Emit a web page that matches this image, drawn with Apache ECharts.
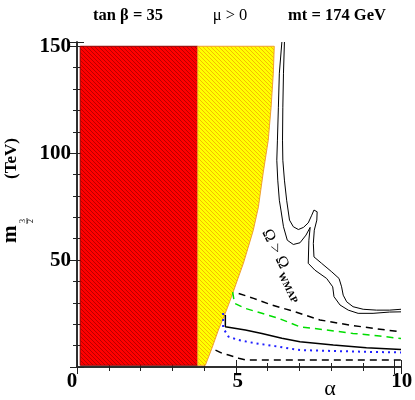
<!DOCTYPE html>
<html>
<head>
<meta charset="utf-8">
<title>m3/2 vs alpha</title>
<script src="https://cdn.jsdelivr.net/npm/echarts@6/dist/echarts.min.js"></script>
<style>
html, body { margin: 0; padding: 0; background: #fff; }
#main { width: 415px; height: 400px; }
</style>
</head>
<body>
<div id="main"></div>
<script>
// values: x = alpha, y = m3/2 (TeV)
var xLabels = [0, 5, 10];
var yLabels = [50, 100, 150];

// excluded regions
var tachyon = [[0.1, 0.8], [3.8, 0.8], [3.8, 150], [0.1, 150]];
var noEwsb = [[3.8, 150], [6.21, 150], [6.18, 137.4], [6.11, 121.5], [6.02, 106], [5.86, 90.7],
    [5.71, 74.8], [5.55, 64], [5.39, 56], [5.24, 48.6], [5.05, 40.7], [4.86, 32.7], [4.67, 25.2],
    [4.45, 17.3], [4.26, 9.3], [4.04, 0.8], [3.8, 0.8]];

// Omega = Omega_WMAP contours
var wmapInner = [[6.53, 152], [6.50, 137.4], [6.48, 121.5], [6.47, 106.1], [6.48, 96.7], [6.53, 87.4],
    [6.60, 78.0], [6.69, 68.7], [6.81, 65.6], [6.97, 64.3], [7.13, 65.3], [7.28, 67.4], [7.39, 71.0],
    [7.46, 73.4], [7.52, 73.8], [7.56, 72.6], [7.55, 68.7], [7.47, 64.0], [7.44, 57.8], [7.46, 51.5],
    [7.70, 48.5], [8.02, 44.5], [8.25, 41.4], [8.33, 37.5], [8.38, 33.6], [8.49, 30.5], [8.69, 28.2],
    [9.01, 27.0], [9.43, 26.6], [9.84, 26.6], [10.2, 27.0]];
var wmapOuter = [[6.45, 152], [6.37, 137.4], [6.34, 121.5], [6.31, 106.1], [6.29, 96.7], [6.32, 87.4],
    [6.37, 78.0], [6.42, 73.4], [6.50, 65.6], [6.62, 59.3], [6.81, 57.3], [7.02, 58.1], [7.21, 61.7],
    [7.34, 65.3], [7.36, 65.6], [7.30, 59.3], [7.28, 48.5], [7.49, 45.3], [7.86, 41.4], [8.05, 37.5],
    [8.09, 32.9], [8.28, 29.0], [8.54, 26.6], [8.85, 25.1], [9.32, 25.1], [9.84, 25.7], [10.2, 25.8]];

// lower curves
var dashUpper = [[5.09, 34.4], [5.56, 32.1], [6.13, 29.0], [6.87, 25.8], [7.65, 22.0], [8.59, 19.6],
    [9.32, 18.1], [10.2, 16.4]];
var greenDash = [[4.90, 35.0], [4.96, 29.8], [5.30, 27.4], [5.82, 25.1], [6.34, 22.8], [7.02, 18.8],
    [7.86, 17.3], [8.69, 15.7], [9.53, 14.5], [10.2, 13.3]];
var solidLine = [[4.67, 24.3], [4.67, 18.8], [4.72, 18.6], [5.30, 17.3], [5.82, 15.7], [6.45, 13.4],
    [7.02, 11.8], [8.07, 10.3], [9.11, 9.0], [10.2, 8.2]];
var blueDots = [[4.6, 25.2], [4.6, 18.2], [4.77, 14.2], [5.09, 12.6], [5.61, 11.1], [6.34, 9.5],
    [7.02, 7.9], [8.07, 7.5], [9.11, 7.1], [10.2, 6.8]];
var dashLower = [[4.36, 7.9], [4.57, 6.4], [4.77, 5.6], [5.09, 4.1], [5.30, 3.3], [7.02, 3.3], [10.2, 3.3]];

var serif = '"Liberation Serif", "DejaVu Serif", serif';

function hatch(bg, fg, w) {
    var c = document.createElement('canvas');
    c.width = 4; c.height = 4;
    var g = c.getContext('2d');
    g.fillStyle = bg;
    g.fillRect(0, 0, 4, 4);
    g.strokeStyle = fg;
    g.lineWidth = w;
    for (var k = -1; k <= 1; k++) {
        g.beginPath();
        g.moveTo(0, k * 4);
        g.lineTo(4, k * 4 + 4);
        g.stroke();
    }
    return { image: c, repeat: 'repeat' };
}

function region(pts, fill, stroke) {
    return {
        type: 'custom',
        coordinateSystem: 'cartesian2d',
        silent: true,
        clip: true,
        data: pts,
        renderItem: function (params, api) {
            if (params.dataIndex !== 0) return;
            return {
                type: 'polygon',
                shape: { points: pts.map(function (p) { return api.coord(p); }) },
                style: { fill: fill, stroke: stroke, lineWidth: 1 }
            };
        }
    };
}

function curve(pts, color, width, dash) {
    return {
        type: 'line',
        data: pts,
        showSymbol: false,
        silent: true,
        lineStyle: { color: color, width: width, type: dash || 'solid' }
    };
}

var frame = { color: '#222', width: 1.5 };
var tickLine = { color: '#222', width: 1 };

function xAx(pos, step, len, labels, line) {
    return {
        type: 'value', position: pos, min: 0, max: 10.2, interval: step,
        axisLine: { show: line, lineStyle: frame },
        axisTick: { show: true, inside: true, length: len, lineStyle: tickLine },
        splitLine: { show: false },
        axisLabel: labels ? {
            margin: 4,
            formatter: function (v) {
                if (v === 0) return '{l|0}';
                if (v === 5) return '{c|5}';
                if (v === 10) return '{r|10}';
                return '';
            },
            rich: {
                l: { fontFamily: serif, fontWeight: 'bold', fontSize: 21, color: '#000', padding: [0, 10, 0, 0] },
                c: { fontFamily: serif, fontWeight: 'bold', fontSize: 21, color: '#000', padding: [0, 0, 0, 4] },
                r: { fontFamily: serif, fontWeight: 'bold', fontSize: 21, color: '#000', padding: [0, 0, 0, 14] }
            }
        } : { show: false }
    };
}

function yAx(pos, step, len, labels, line) {
    return {
        type: 'value', position: pos, min: 0, max: 152, interval: step,
        axisLine: { show: line, lineStyle: frame },
        axisTick: { show: true, inside: true, length: len, lineStyle: tickLine },
        splitLine: { show: false },
        axisLabel: labels ? {
            margin: 6,
            fontFamily: serif, fontWeight: 'bold', fontSize: 21, color: '#000',
            formatter: function (v) { return yLabels.indexOf(v) >= 0 ? String(v) : ''; }
        } : { show: false }
    };
}

var chart = echarts.init(document.getElementById('main'));
chart.setOption({
    animation: false,
    backgroundColor: '#fff',
    grid: { left: 77, top: 42, width: 324, height: 325, outerBoundsMode: 'none' },
    xAxis: [
        xAx('bottom', 5, 7, true, true),
        xAx('bottom', 1, 4, false, false),
        xAx('top', 1, 4, false, true),
        xAx('top', 5, 7, false, false)
    ],
    yAxis: [
        yAx('left', 50, 7, true, true),
        yAx('left', 10, 4, false, false),
        yAx('right', 10, 4, false, true),
        yAx('right', 50, 7, false, false)
    ],
    series: [
        region(tachyon, hatch('#ff0000', '#700000', 0.5), '#900000'),
        region(noEwsb, hatch('#ffff00', '#f0a000', 0.7), '#f0a030'),
        curve(wmapOuter, '#000', 1),
        curve(wmapInner, '#000', 1),
        curve(dashUpper, '#000', 1.5, [7, 5]),
        curve(greenDash, '#00dd00', 1.5, [7, 5]),
        curve(solidLine, '#000', 1.5),
        curve(blueDots, '#2020ff', 2, [2, 4]),
        curve(dashLower, '#000', 1.5, [7, 5])
    ],
    graphic: [
        { type: 'text', x: 128, y: 16, style: { text: 'tan β = 35', font: 'bold 16.5px ' + serif, fill: '#000', align: 'center', verticalAlign: 'middle' } },
        { type: 'text', x: 230, y: 16, style: { text: 'μ > 0', font: '16.5px ' + serif, fill: '#000', align: 'center', verticalAlign: 'middle' } },
        { type: 'text', x: 337, y: 16, style: { text: 'mt = 174 GeV', font: 'bold 16.5px ' + serif, fill: '#000', align: 'center', verticalAlign: 'middle' } },
        { type: 'text', x: 330, y: 389, style: { text: 'α', font: '22px ' + serif, fill: '#000', align: 'center', verticalAlign: 'middle' } },
        { type: 'text', x: 125, y: 152, style: { text: 'Tachyon', font: 'bold 16px ' + serif, fill: '#fff', align: 'center', verticalAlign: 'middle' } },
        { type: 'text', x: 232, y: 137, rotation: 55 * Math.PI / 180,
          style: { text: 'No EWSB', font: 'bold 16px ' + serif, fill: '#000', align: 'center', verticalAlign: 'middle' } },
        {
            type: 'group', x: 266, y: 230, rotation: -64 * Math.PI / 180,
            children: [
                { type: 'text', x: 0, y: 0, style: { text: 'Ω > Ω', font: '16.5px ' + serif, fill: '#000', align: 'left', verticalAlign: 'middle' } },
                { type: 'text', x: 45, y: 6, style: { text: 'WMAP', font: 'bold 10px ' + serif, fill: '#000', align: 'left', verticalAlign: 'middle' } }
            ]
        },
        {
            type: 'group', x: 18, y: 245, rotation: Math.PI / 2,
            children: [
                { type: 'text', x: 2, y: -7, style: { text: 'm', font: 'bold 21px ' + serif, fill: '#000', align: 'left', verticalAlign: 'middle' } },
                { type: 'text', x: 24, y: 5, style: { text: '3', font: '8px ' + serif, fill: '#000', align: 'center', verticalAlign: 'middle' } },
                { type: 'line', shape: { x1: 21, y1: 9, x2: 27, y2: 9 }, style: { stroke: '#000', lineWidth: 0.8 } },
                { type: 'text', x: 24, y: 13, style: { text: '2', font: '8px ' + serif, fill: '#000', align: 'center', verticalAlign: 'middle' } },
                { type: 'text', x: 66, y: -6, style: { text: '(TeV)', font: 'bold 17px ' + serif, fill: '#000', align: 'left', verticalAlign: 'middle' } }
            ]
        }
    ]
});
</script>
</body>
</html>
